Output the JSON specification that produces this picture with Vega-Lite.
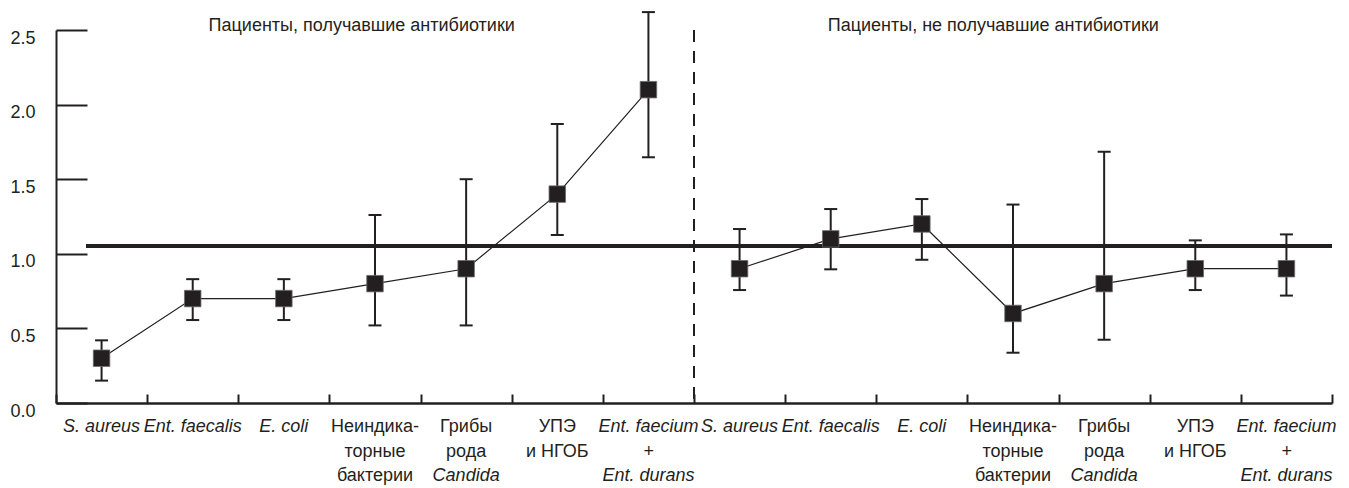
{
  "$schema": "https://vega.github.io/schema/vega-lite/v6.json",
  "width": 1276,
  "height": 373,
  "autosize": {"type": "none"},
  "padding": {"left": 56, "top": 30, "right": 17, "bottom": 85},
  "config": {"view": {"stroke": null}, "font": "Liberation Sans", "axis": {"grid": false}},
  "data": {"values": [
    {"key": "A1", "group": "A", "mean": 0.3, "lo": 0.15, "hi": 0.42, "up": [], "it": ["S. aureus"], "genus": ""},
    {"key": "A2", "group": "A", "mean": 0.7, "lo": 0.556, "hi": 0.83, "up": [], "it": ["Ent. faecalis"], "genus": ""},
    {"key": "A3", "group": "A", "mean": 0.7, "lo": 0.556, "hi": 0.83, "up": [], "it": ["E. coli"], "genus": ""},
    {"key": "A4", "group": "A", "mean": 0.8, "lo": 0.52, "hi": 1.26, "up": ["Неиндика-", "торные", "бактерии"], "it": [], "genus": ""},
    {"key": "A5", "group": "A", "mean": 0.9, "lo": 0.52, "hi": 1.5, "up": ["Грибы", "рода"], "it": [], "genus": "Candida"},
    {"key": "A6", "group": "A", "mean": 1.4, "lo": 1.126, "hi": 1.87, "up": ["УПЭ", "и НГОБ"], "it": [], "genus": ""},
    {"key": "A7", "group": "A", "mean": 2.1, "lo": 1.647, "hi": 2.62, "up": [], "it": ["Ent. faecium", "+", "Ent. durans"], "genus": ""},
    {"key": "B1", "group": "B", "mean": 0.9, "lo": 0.757, "hi": 1.166, "up": [], "it": ["S. aureus"], "genus": ""},
    {"key": "B2", "group": "B", "mean": 1.1, "lo": 0.896, "hi": 1.3, "up": [], "it": ["Ent. faecalis"], "genus": ""},
    {"key": "B3", "group": "B", "mean": 1.2, "lo": 0.96, "hi": 1.367, "up": [], "it": ["E. coli"], "genus": ""},
    {"key": "B4", "group": "B", "mean": 0.6, "lo": 0.337, "hi": 1.33, "up": ["Неиндика-", "торные", "бактерии"], "it": [], "genus": ""},
    {"key": "B5", "group": "B", "mean": 0.8, "lo": 0.424, "hi": 1.684, "up": ["Грибы", "рода"], "it": [], "genus": "Candida"},
    {"key": "B6", "group": "B", "mean": 0.9, "lo": 0.757, "hi": 1.09, "up": ["УПЭ", "и НГОБ"], "it": [], "genus": ""},
    {"key": "B7", "group": "B", "mean": 0.9, "lo": 0.72, "hi": 1.13, "up": [], "it": ["Ent. faecium", "+", "Ent. durans"], "genus": ""}
  ]},
  "layer": [
    {
      "mark": {"type": "rule", "strokeWidth": 3, "color": "#231f20"},
      "encoding": {
        "x": {"datum": "A1", "type": "nominal", "bandPosition": 0.33,
          "scale": {"type": "band", "domain": ["A1","A2","A3","A4","A5","A6","A7","B1","B2","B3","B4","B5","B6","B7"], "paddingInner": 0, "paddingOuter": 0},
          "axis": {"labels": false, "title": null, "tickBand": "extent", "tickSize": -9, "tickWidth": 2, "tickColor": "#231f20", "domainWidth": 2.5, "domainColor": "#231f20"}},
        "x2": {"datum": "B7", "bandPosition": 1},
        "y": {"datum": 1.05, "type": "quantitative",
          "scale": {"domain": [0, 2.5], "nice": false},
          "axis": {"values": [0, 0.5, 1, 1.5, 2, 2.5], "format": ".1f", "title": null, "tickSize": -31, "tickWidth": 2, "tickColor": "#231f20", "domainWidth": 2, "domainColor": "#231f20", "labelFontSize": 18, "labelColor": "#231f20", "labelPadding": 52, "labelOffset": 8}}
      }
    },
    {
      "mark": {"type": "rule", "strokeWidth": 2, "strokeDash": [12, 9], "color": "#231f20"},
      "encoding": {"x": {"datum": "B1", "type": "nominal", "bandPosition": 0}}
    },
    {
      "mark": {"type": "rule", "strokeWidth": 2, "color": "#231f20"},
      "encoding": {
        "x": {"field": "key", "type": "nominal"},
        "y": {"field": "lo", "type": "quantitative"},
        "y2": {"field": "hi"}
      }
    },
    {
      "mark": {"type": "tick", "thickness": 2, "size": 13, "color": "#231f20", "opacity": 1},
      "encoding": {
        "x": {"field": "key", "type": "nominal"},
        "y": {"field": "lo", "type": "quantitative"}
      }
    },
    {
      "mark": {"type": "tick", "thickness": 2, "size": 13, "color": "#231f20", "opacity": 1},
      "encoding": {
        "x": {"field": "key", "type": "nominal"},
        "y": {"field": "hi", "type": "quantitative"}
      }
    },
    {
      "mark": {"type": "line", "strokeWidth": 1.2, "color": "#231f20"},
      "encoding": {
        "x": {"field": "key", "type": "nominal"},
        "y": {"field": "mean", "type": "quantitative"},
        "detail": {"field": "group"}
      }
    },
    {
      "mark": {"type": "square", "size": 272, "filled": true, "opacity": 1, "color": "#231f20", "stroke": "#6d6b6b", "strokeWidth": 0.8},
      "encoding": {
        "x": {"field": "key", "type": "nominal"},
        "y": {"field": "mean", "type": "quantitative"}
      }
    },
    {
      "transform": [{"filter": "length(datum.up) > 0"}],
      "mark": {"type": "text", "fontSize": 18, "baseline": "top", "align": "center", "dy": 15, "lineHeight": 24.5, "color": "#231f20"},
      "encoding": {
        "x": {"field": "key", "type": "nominal"},
        "y": {"datum": 0, "type": "quantitative"},
        "text": {"field": "up"}
      }
    },
    {
      "transform": [{"filter": "length(datum.it) > 0"}],
      "mark": {"type": "text", "fontSize": 18, "fontStyle": "italic", "baseline": "top", "align": "center", "dy": 15, "lineHeight": 24.5, "color": "#231f20"},
      "encoding": {
        "x": {"field": "key", "type": "nominal"},
        "y": {"datum": 0, "type": "quantitative"},
        "text": {"field": "it"}
      }
    },
    {
      "transform": [{"filter": "length(datum.genus) > 0"}],
      "mark": {"type": "text", "fontSize": 18, "fontStyle": "italic", "baseline": "top", "align": "center", "dy": 64, "color": "#231f20"},
      "encoding": {
        "x": {"field": "key", "type": "nominal"},
        "y": {"datum": 0, "type": "quantitative"},
        "text": {"field": "genus"}
      }
    },
    {
      "data": {"values": [{"key": "A4", "title": "Пациенты, получавшие антибиотики", "y": 2.49}]},
      "mark": {"type": "text", "fontSize": 18, "baseline": "alphabetic", "align": "center", "color": "#231f20"},
      "encoding": {
        "x": {"field": "key", "type": "nominal", "bandPosition": 0.354},
        "y": {"field": "y", "type": "quantitative"},
        "text": {"field": "title"}
      }
    },
    {
      "data": {"values": [{"key": "B4", "title": "Пациенты, не получавшие антибиотики", "y": 2.49}]},
      "mark": {"type": "text", "fontSize": 18, "baseline": "alphabetic", "align": "center", "color": "#231f20"},
      "encoding": {
        "x": {"field": "key", "type": "nominal", "bandPosition": 0.284},
        "y": {"field": "y", "type": "quantitative"},
        "text": {"field": "title"}
      }
    }
  ]
}
